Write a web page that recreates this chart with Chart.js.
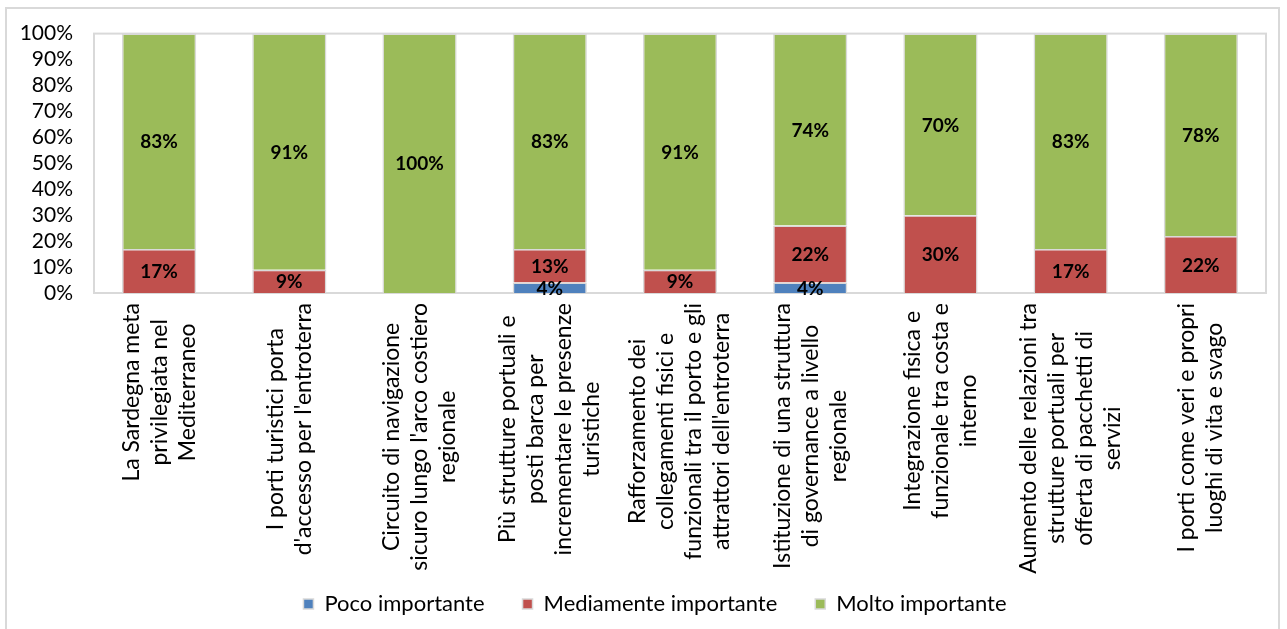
<!DOCTYPE html>
<html>
<head>
<meta charset="utf-8">
<script src="https://cdn.jsdelivr.net/npm/chart.js@4"></script>
<style>
  html, body { margin: 0; padding: 0; background: #fff; }
  .frame { position: absolute; left: 5px; top: 7px; width: 1275px; height: 660px; border: 2px solid #d9d9d9; box-sizing: border-box; }
  .canvas-container { position: absolute; left: 0; top: 0; width: 1287px; height: 629px; }
</style>
</head>
<body>
<div class="frame"></div>
<div class="canvas-container"><canvas id="chart"></canvas></div>
<script>
// categories (already split in lines as in the picture)
const categories = [
  ["La Sardegna meta", "privilegiata nel", "Mediterraneo"],
  ["I porti turistici porta", "d'accesso per l'entroterra"],
  ["Circuito di navigazione", "sicuro lungo l'arco costiero", "regionale"],
  ["Più strutture portuali e", "posti barca per", "incrementare le presenze", "turistiche"],
  ["Rafforzamento dei", "collegamenti fisici e", "funzionali tra il porto e gli", "attrattori dell'entroterra"],
  ["Istituzione di una struttura", "di governance a livello", "regionale"],
  ["Integrazione fisica e", "funzionale tra costa e", "interno"],
  ["Aumento delle relazioni tra", "strutture portuali per", "offerta di pacchetti di", "servizi"],
  ["I porti come veri e propri", "luoghi di vita e svago"]
];

const pocoImportante = [0, 0, 0, 4, 0, 4, 0, 0, 0];
const mediamenteImportante = [17, 9, 0, 13, 9, 22, 30, 17, 22];
const moltoImportante = [83, 91, 100, 83, 91, 74, 70, 83, 78];

const FONT = "Lato, 'Open Sans', sans-serif";

// plot area border like the excel one
const plotBorder = {
  id: "plotBorder",
  beforeDatasetsDraw(chart) {
    const a = chart.chartArea;
    const ctx = chart.ctx;
    ctx.save();
    ctx.strokeStyle = "#d9d9d9";
    ctx.lineWidth = 2;
    ctx.strokeRect(a.left, a.top, a.right - a.left, a.bottom - a.top);
    ctx.restore();
  }
};

// nudge the legend a bit to the right, as in the excel chart
const legendShift = {
  id: "legendShift",
  afterLayout(chart) {
    if (chart.legend) {
      chart.legend.left += 22;
      chart.legend.right += 22;
    }
  }
};

// percentage labels inside each segment
const segmentLabels = {
  id: "segmentLabels",
  afterDatasetsDraw(chart) {
    const ctx = chart.ctx;
    ctx.save();
    ctx.font = "bold 19px " + FONT;
    ctx.fillStyle = "#000";
    ctx.textAlign = "center";
    ctx.textBaseline = "middle";
    chart.data.datasets.forEach((ds, di) => {
      const meta = chart.getDatasetMeta(di);
      meta.data.forEach((bar, i) => {
        const v = ds.data[i];
        if (!v) return;
        const p = bar.getProps(["x", "y", "base"], true);
        ctx.fillText(v + "%", p.x, (p.y + p.base) / 2 + 1);
      });
    });
    ctx.restore();
  }
};

// vertical multi line category labels, lines centred on each other
const categoryLabels = {
  id: "categoryLabels",
  afterDraw(chart) {
    const ctx = chart.ctx;
    const xs = chart.scales.x;
    const top = chart.chartArea.bottom + 10;
    const lh = 28;
    ctx.save();
    ctx.font = "23px " + FONT;
    ctx.fillStyle = "#000";
    ctx.textAlign = "center";
    ctx.textBaseline = "middle";
    categories.forEach((lines, i) => {
      const x = xs.getPixelForValue(i);
      const L = Math.max(...lines.map(l => ctx.measureText(l).width));
      ctx.save();
      ctx.translate(x, top);
      ctx.rotate(-Math.PI / 2);
      lines.forEach((l, j) => {
        ctx.fillText(l, -L / 2, (j - (lines.length - 1) / 2) * lh);
      });
      ctx.restore();
    });
    ctx.restore();
  }
};

const ctx = document.getElementById("chart").getContext("2d");
new Chart(ctx, {
  type: "bar",
  data: {
    labels: categories.map(c => c.join(" ")),
    datasets: [
      { label: "Poco importante", data: pocoImportante, backgroundColor: "#4F81BD", borderColor: "#d9d9d9", borderWidth: 1.5 },
      { label: "Mediamente importante", data: mediamenteImportante, backgroundColor: "#C0504D", borderColor: "#d9d9d9", borderWidth: 1.5 },
      { label: "Molto importante", data: moltoImportante, backgroundColor: "#9BBB59", borderColor: "#d9d9d9", borderWidth: 1.5 }
    ]
  },
  options: {
    responsive: true,
    maintainAspectRatio: false,
    animation: false,
    layout: { padding: { left: 0, right: 21, top: 33, bottom: 4 } },
    datasets: { bar: { categoryPercentage: 1, barPercentage: 0.57 } },
    scales: {
      x: {
        stacked: true,
        grid: { display: false, drawTicks: false },
        border: { display: false },
        ticks: { display: false },
        afterFit(s) { s.height = 262; }
      },
      y: {
        stacked: true,
        min: 0,
        max: 100,
        grid: { display: false, drawTicks: false },
        border: { display: false },
        ticks: {
          stepSize: 10,
          autoSkip: false,
          padding: 21,
          color: "#000",
          font: { family: FONT, size: 21 },
          callback: v => v + "%"
        },
        afterFit(s) { s.width = 94; }
      }
    },
    plugins: {
      tooltip: { enabled: false },
      legend: {
        position: "bottom",
        labels: {
          boxWidth: 10,
          boxHeight: 10,
          padding: 38,
          color: "#000",
          font: { family: FONT, size: 22 }
        }
      }
    }
  },
  plugins: [plotBorder, legendShift, segmentLabels, categoryLabels]
});
</script>
</body>
</html>
